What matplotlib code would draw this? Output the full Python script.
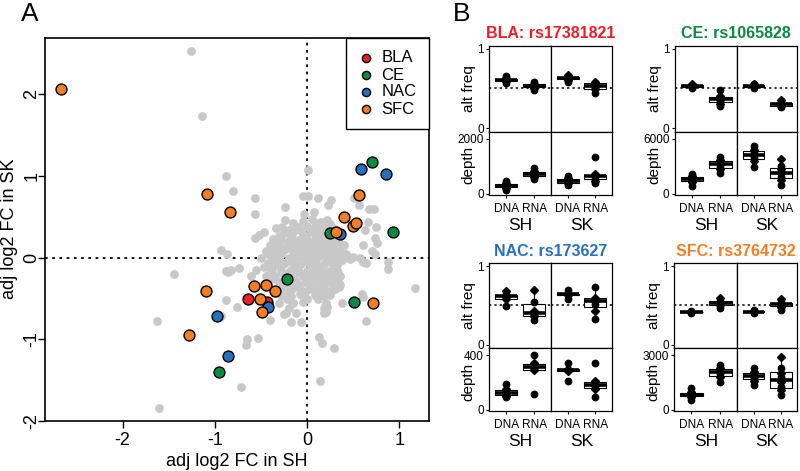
import matplotlib
matplotlib.use("Agg")
import matplotlib.pyplot as plt

plt.rcParams["font.family"] = ["Liberation Sans", "DejaVu Sans"]
plt.rcParams["axes.unicode_minus"] = False

W, H = 800, 471

# ---- panel A data: (adj log2 FC in SH, adj log2 FC in SK) ----
gray_pts = [
    (-1.255, 2.53), (-1.14, 1.74), (-0.88, 1.0), (-0.80, 0.82), (0.01, 1.07),
    (-0.565, 0.73), (-0.047, 0.76), (0.01, 0.76), (0.12, 0.73), (0.26, 0.71),
    (0.51, 0.73), (0.56, 0.65), (0.23, 0.65), (-0.565, 0.54), (-0.245, 0.626),
    (-0.245, 0.46), (0.07, 0.56), (-0.036, 0.54), (0.19, 0.44), (0.665, 0.59),
    (0.72, 0.59), (0.66, 0.44), (0.75, 0.38), (0.63, 0.34), (-0.565, 0.24),
    (-0.52, 0.28), (-0.47, 0.31), (-0.34, 0.36), (-0.27, 0.38), (-0.37, 0.23),
    (-0.935, 0.10), (-0.87, 0.045), (-1.44, -0.20), (-0.874, -0.16), (-0.83, -0.15),
    (-0.74, -0.13), (0.73, 0.245), (0.755, 0.18), (0.70, 0.086), (0.61, 0.155),
    (0.74, 0.05), (0.50, 0.01), (0.46, -0.02), (0.57, 0.0), (0.64, -0.06),
    (0.61, -0.05), (0.88, -0.05), (0.88, -0.14), (1.17, -0.37), (0.59, -0.44),
    (0.61, -0.48), (0.637, -0.77), (0.36, -0.23), (0.29, -0.29), (0.34, -0.36),
    (0.36, -0.335), (0.25, -0.46), (0.38, -0.55), (0.133, -0.97), (0.16, -1.05),
    (0.29, -1.10), (0.144, -1.51), (-0.72, -1.58), (-1.60, -1.84), (-1.63, -0.78),
    (-0.88, -0.52), (-0.755, -0.61), (-0.935, -0.72), (-0.536, -0.985),
    (-0.65, -0.99), (-0.665, -1.07), (-0.18, -0.79), (-0.072, -0.79),
    (-0.40, -0.765), (-0.23, -0.68), (0.187, -0.68), (0.18, -0.62), (0.2, -0.66),
    (0.305, -0.05), (-0.61, -0.23), (-0.86, -0.17),
    # dense centre
    (-0.05, 0.45), (0.05, 0.47), (0.15, 0.44), (0.21, 0.46),
    (-0.10, 0.38), (0.0, 0.39), (0.08, 0.37), (0.18, 0.38), (0.28, 0.36),
    (-0.25, 0.30), (-0.15, 0.31), (-0.05, 0.29), (0.05, 0.31), (0.12, 0.28), (0.20, 0.30),
    (-0.35, 0.22), (-0.28, 0.23), (-0.20, 0.21), (-0.10, 0.22), (0.0, 0.23),
    (0.08, 0.21), (0.15, 0.22), (0.25, 0.22), (0.33, 0.21),
    (-0.40, 0.15), (-0.30, 0.14), (-0.22, 0.16), (-0.12, 0.15), (-0.05, 0.14),
    (0.03, 0.16), (0.10, 0.15), (0.18, 0.14), (0.27, 0.15), (0.40, 0.15),
    (-0.45, 0.08), (-0.33, 0.07), (-0.25, 0.09), (-0.15, 0.08), (-0.08, 0.07),
    (0.0, 0.08), (0.07, 0.09), (0.14, 0.07), (0.22, 0.08), (0.30, 0.07), (0.38, 0.08),
    (-0.50, 0.0), (-0.38, 0.01), (-0.30, -0.01), (-0.20, 0.0), (-0.12, 0.01),
    (-0.03, -0.01), (0.05, 0.0), (0.12, 0.01), (0.20, -0.01), (0.28, 0.0), (0.35, 0.01),
    (-0.42, -0.07), (-0.32, -0.08), (-0.24, -0.06), (-0.15, -0.07), (-0.07, -0.08),
    (0.02, -0.07), (0.10, -0.06), (0.18, -0.08), (0.27, -0.07), (0.33, -0.06),
    (-0.55, -0.15), (-0.38, -0.14), (-0.28, -0.16), (-0.18, -0.15), (-0.10, -0.14),
    (0.0, -0.16), (0.07, -0.15), (0.15, -0.14), (0.24, -0.16), (0.32, -0.15),
    (-0.45, -0.22), (-0.35, -0.23), (-0.25, -0.21), (-0.15, -0.22), (-0.05, -0.23),
    (0.05, -0.21), (0.12, -0.22), (0.20, -0.23), (0.28, -0.22),
    (-0.30, -0.30), (-0.22, -0.31), (-0.12, -0.29), (-0.02, -0.30), (0.06, -0.31),
    (0.15, -0.29), (0.25, -0.30), (0.35, -0.31),
    (-0.25, -0.38), (-0.15, -0.37), (-0.07, -0.39), (0.02, -0.38), (0.10, -0.37),
    (0.20, -0.39), (0.30, -0.38),
    (-0.28, -0.46), (-0.18, -0.47), (-0.08, -0.45), (0.08, -0.46), (0.18, -0.47),
    (-0.30, -0.55), (-0.15, -0.56), (-0.05, -0.54), (0.20, -0.55),
    (-0.20, -0.62), (0.22, -0.61), (-0.25, -0.69), (-0.12, -0.68),
    (-0.15, 0.42), (0.10, 0.42), (0.25, 0.41),
    (-0.20, 0.34), (-0.08, 0.34), (0.03, 0.35), (0.15, 0.33), (0.24, 0.34),
    (-0.30, 0.26), (-0.18, 0.26), (-0.02, 0.27), (0.10, 0.25), (0.18, 0.26), (0.30, 0.27),
    (-0.33, 0.18), (-0.17, 0.19), (-0.08, 0.18), (0.06, 0.19), (0.13, 0.18),
    (0.22, 0.17), (0.35, 0.18),
    (-0.38, 0.11), (-0.20, 0.12), (-0.02, 0.11), (0.10, 0.12), (0.25, 0.11), (0.33, 0.12),
    (-0.42, 0.04), (-0.28, 0.05), (-0.10, 0.04), (0.02, 0.03), (0.16, 0.04),
    (0.26, 0.05), (0.42, 0.04),
    (-0.35, -0.04), (-0.20, -0.03), (-0.05, -0.04), (0.08, -0.03), (0.22, -0.04), (0.38, -0.03),
    (-0.47, -0.11), (-0.28, -0.11), (-0.12, -0.10), (0.05, -0.11), (0.13, -0.12), (0.30, -0.11),
    (-0.40, -0.19), (-0.20, -0.18), (-0.08, -0.19), (0.10, -0.18), (0.20, -0.19), (0.33, -0.19),
    (-0.38, -0.26), (-0.18, -0.26), (0.0, -0.25), (0.10, -0.26), (0.22, -0.26),
    (-0.28, -0.34), (-0.10, -0.34), (0.05, -0.33), (0.17, -0.34), (0.28, -0.34),
    (-0.20, -0.42), (-0.02, -0.42), (0.13, -0.41), (0.25, -0.42),
    (-0.22, -0.50), (0.0, -0.50), (0.12, -0.51),
]
bla_pts = [(-0.637, -0.51), (-0.43, -0.54)]
ce_pts = [(0.705, 1.17), (0.25, 0.30), (0.935, 0.315), (-0.216, -0.266),
          (-0.95, -1.40), (0.504, -0.548)]
nac_pts = [(0.586, 1.08), (0.853, 1.02), (0.36, 0.29), (-0.42, -0.605),
           (-0.98, -0.71), (-0.853, -1.20)]
sfc_pts = [(-2.67, 2.06), (-1.09, 0.785), (0.565, 0.765), (-0.84, 0.556),
           (0.40, 0.50), (0.50, 0.39), (0.53, 0.42), (0.31, 0.32),
           (-1.097, -0.41), (-0.576, -0.35), (-0.45, -0.34), (-0.353, -0.41),
           (-0.51, -0.51), (-0.486, -0.667), (-1.277, -0.953), (0.712, -0.552)]

region_names = ["BLA", "CE", "NAC", "SFC"]
region_colors = ["#EC1F26", "#0B8A42", "#2571BD", "#F27F24"]

# ---- panel B data: order SH-DNA, SH-RNA, SK-DNA, SK-RNA ----
bla_alt = [[0.57, 0.59, 0.60, 0.61, 0.62, 0.63, 0.66],
           [0.48, 0.51, 0.53, 0.53, 0.54, 0.56, 0.58],
           [0.58, 0.61, 0.63, 0.64, 0.65, 0.67],
           [0.44, 0.49, 0.52, 0.55, 0.57, 0.58]]
bla_depth = [[150, 220, 260, 290, 320, 380, 470],
             [520, 620, 680, 720, 760, 830, 950],
             [300, 380, 420, 450, 480, 560, 650],
             [380, 470, 600, 640, 670, 700, 1340]]
ce_alt = [[0.51, 0.52, 0.53, 0.53, 0.54, 0.55],
          [0.28, 0.31, 0.34, 0.37, 0.38, 0.40, 0.48],
          [0.51, 0.52, 0.53, 0.54, 0.55, 0.56],
          [0.26, 0.28, 0.30, 0.31, 0.32, 0.35]]
ce_depth = [[850, 1250, 1450, 1580, 1700, 1900, 2150],
            [2300, 2650, 2950, 3200, 3450, 3700, 4000],
            [2950, 3550, 3950, 4200, 4500, 4800, 5250],
            [950, 1500, 1800, 2200, 2400, 2700, 3000, 3800]]
nac_alt = [[0.49, 0.58, 0.61, 0.62, 0.64, 0.68],
           [0.31, 0.36, 0.37, 0.43, 0.54, 0.70],
           [0.58, 0.63, 0.64, 0.65, 0.70],
           [0.33, 0.43, 0.52, 0.56, 0.58, 0.60, 0.74]]
nac_depth = [[90, 100, 115, 125, 135, 150, 185],
             [114, 290, 300, 310, 330, 345, 400],
             [210, 285, 295, 300, 345],
             [90, 150, 170, 180, 190, 210, 345]]
sfc_alt = [[0.40, 0.41, 0.41, 0.42, 0.43],
           [0.47, 0.50, 0.52, 0.53, 0.56, 0.60],
           [0.40, 0.41, 0.42, 0.43, 0.44],
           [0.44, 0.48, 0.51, 0.52, 0.54, 0.58]]
sfc_depth = [[550, 700, 780, 820, 880, 1000, 1180],
             [1550, 1800, 1950, 2090, 2200, 2300, 2450],
             [1360, 1600, 1750, 1850, 1950, 2050, 2270],
             [820, 1100, 1250, 1500, 1820, 2000, 2270, 2900]]
depth_tops = [2000, 6000, 400, 3000]
snp_titles = ["BLA: rs17381821", "CE: rs1065828", "NAC: rs173627", "SFC: rs3764732"]
sample_types = ["DNA", "RNA"]
conditions = ["SH", "SK"]

fig = plt.figure(figsize=(W / 100, H / 100), dpi=100)


def px_axes(l, t, r, b):
    return fig.add_axes([l / W, 1 - b / H, (r - l) / W, (b - t) / H])


def px_text(x, y, s, **kw):
    fig.text(x / W, 1 - y / H, s, ha=kw.pop("ha", "center"), va=kw.pop("va", "center"), **kw)


# ================= panel A =================
ax = px_axes(45, 38, 429, 421)
ax.axvline(0, color="black", ls=(0, (1.5, 2.5)), lw=1.3, zorder=1)
ax.axhline(0, color="black", ls=(0, (1.5, 2.5)), lw=1.3, zorder=1)
gx = [p[0] for p in gray_pts]
gy = [p[1] for p in gray_pts]
ax.scatter(gx, gy, s=40, color="#C8C8C8", lw=0, zorder=2)
for pts, name, col in zip([bla_pts, ce_pts, nac_pts, sfc_pts], region_names, region_colors):
    ax.scatter([p[0] for p in pts], [p[1] for p in pts], s=62, color=col,
               edgecolor="black", lw=1.0, zorder=3, label=name)
ax.set_xlim(-2.84, 1.32)
ax.set_ylim(-2.0, 2.69)
ax.set_xticks([-2, -1, 0, 1])
ax.set_yticks([-2, -1, 0, 1, 2])
ax.tick_params(direction="out", length=5, width=1, labelsize=13, pad=3)
ax.tick_params(axis="y", pad=-1.5)
for lab in ax.get_yticklabels():
    lab.set_rotation(90)
    lab.set_va("center")
for sp in ax.spines.values():
    sp.set_linewidth(1.2)
ax.set_xlabel("adj log2 FC in SH", fontsize=13, labelpad=3)
px_text(10, 229, "adj log2 FC in SK", fontsize=13, rotation=90)
leg = ax.legend(loc="upper right", borderaxespad=0, fancybox=False, edgecolor="black",
                framealpha=1, fontsize=12, handletextpad=0.4, labelspacing=0.12,
                borderpad=0.75, markerscale=0.75, handlelength=1.0)
leg.get_frame().set_linewidth(1.0)

px_text(30, 14, "A", fontsize=19)
px_text(462, 14, "B", fontsize=19)

# ================= panel B =================
panels = [
    (489.3, 551, 611.7, 46, 131.7, 195, 34),
    (675, 737.3, 797, 46, 131.7, 195, 34),
    (489.3, 551, 611.7, 263.3, 348.3, 411, 252),
    (674.3, 737.3, 797, 263.3, 348.3, 411, 252),
]
alts = [bla_alt, ce_alt, nac_alt, sfc_alt]
depths = [bla_depth, ce_depth, nac_depth, sfc_depth]

for k, (l, vm, r, t, hm, b, ty) in enumerate(panels):
    col = region_colors[k]
    px_text((l + r) / 2, ty, snp_titles[k], fontsize=11.5, fontweight="bold", color=col)
    top = depth_tops[k]
    for row in range(2):
        for c in range(2):
            x0, x1 = (l, vm) if c == 0 else (vm, r)
            y0, y1 = (t, hm) if row == 0 else (hm, b)
            fa = px_axes(x0, y0, x1, y1)
            vals = (alts[k] if row == 0 else depths[k])[2 * c:2 * c + 2]
            if row == 0:
                fa.axhline(0.5, color="black", ls=(0, (1.5, 2)), lw=1.1, zorder=1)
            fa.boxplot(vals, positions=[1, 2], widths=0.8, patch_artist=True,
                       showfliers=False, whis=1.5,
                       boxprops=dict(facecolor="white", edgecolor="black", lw=0.8),
                       medianprops=dict(color="black", lw=2.6),
                       whiskerprops=dict(color="black", lw=0.8),
                       capprops=dict(lw=0))
            for i, v in enumerate(vals):
                for j, val in enumerate(v):
                    fa.plot(i + 1, val, marker="o" if j % 2 == 0 else "D",
                            ms=4.6 if j % 2 == 0 else 4.2, color="black", lw=0, zorder=4)
            fa.set_xlim(0.4, 2.6)
            if row == 0:
                fa.set_ylim(-0.045, 1.035)
            else:
                fa.set_ylim(-0.025 * top, 1.128 * top)
            fa.tick_params(direction="out", length=2.5, width=0.8, labelsize=8.5, pad=1.5)
            if row == 1:
                fa.set_xticks([1, 2])
                fa.set_xticklabels(sample_types, fontsize=8.6)
                fa.tick_params(axis="x", pad=3)
            else:
                fa.set_xticks([])
            if c == 0:
                fa.set_yticks([0, 1] if row == 0 else [0, top])
                fa.set_yticklabels(["0", "1"] if row == 0 else ["0", str(top)])
            else:
                fa.set_yticks([])
            for sp in fa.spines.values():
                sp.set_linewidth(0.9)
    px_text(l - 20, (t + hm) / 2, "alt freq", fontsize=11, rotation=90)
    px_text(l - 21, (hm + b) / 2 + 2, "depth", fontsize=11, rotation=90)
    px_text((l + vm) / 2, b + 30, conditions[0], fontsize=12.5)
    px_text((vm + r) / 2, b + 30, conditions[1], fontsize=12.5)

fig.savefig("out.png", dpi=100)
